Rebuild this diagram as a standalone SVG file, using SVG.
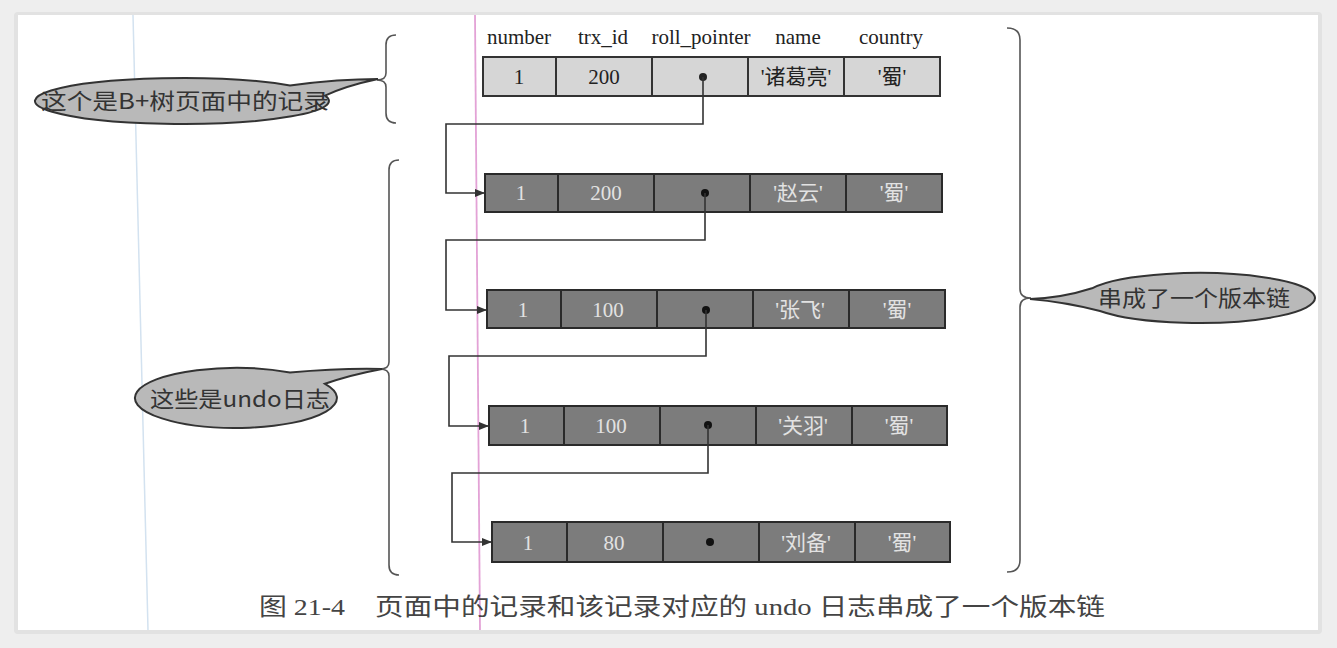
<svg xmlns="http://www.w3.org/2000/svg" width="1337" height="648" viewBox="0 0 1337 648">
<defs>
<style>
.t{font-family:"Liberation Serif","Noto Sans CJK SC",serif;font-size:21px;text-anchor:middle}
.lt{fill:#222}
.dk{fill:#e2e2e2}
.cl{fill:#d6d6d6;stroke:#333;stroke-width:2}
.cd{fill:#7c7c7c;stroke:#2a2a2a;stroke-width:2}
.con{fill:none;stroke:#333;stroke-width:1.6}
.br{fill:none;stroke:#555;stroke-width:1.6}
.bub{fill:#b9b9b9;stroke:#333;stroke-width:2}
.bt{font-family:"Noto Sans CJK SC","Liberation Serif",serif;font-size:22px;fill:#333}
.cap{font-family:"Liberation Serif","Noto Sans CJK SC",serif;font-size:24px;fill:#444}
</style>
<marker id="ah" markerWidth="10" markerHeight="8" refX="9" refY="4" orient="auto" markerUnits="userSpaceOnUse">
<path d="M0,0 L10,4 L0,8 Z" fill="#333"/>
</marker>
</defs>
<rect x="0" y="0" width="1337" height="648" fill="#eeeeee"/>
<rect x="14" y="12" width="1308" height="622" rx="4" fill="#e2e2e2"/>
<rect x="18" y="15" width="1300" height="615" fill="#ffffff"/>
<line x1="133" y1="15" x2="148" y2="630" stroke="#d3e2f0" stroke-width="1.5"/>
<line x1="475" y1="15" x2="480" y2="630" stroke="#e3a2d6" stroke-width="1.8"/>

<g id="headers">
<text class="t lt" x="519" y="44">number</text>
<text class="t lt" x="603" y="44">trx_id</text>
<text class="t lt" x="701" y="44">roll_pointer</text>
<text class="t lt" x="798" y="44">name</text>
<text class="t lt" x="891" y="44">country</text>
</g>

<g id="row1">
<rect class="cl" x="483" y="57" width="73" height="39"/>
<rect class="cl" x="556" y="57" width="96" height="39"/>
<rect class="cl" x="652" y="57" width="96" height="39"/>
<rect class="cl" x="748" y="57" width="96" height="39"/>
<rect class="cl" x="844" y="57" width="96" height="39"/>
<text class="t lt" x="519" y="84">1</text>
<text class="t lt" x="604" y="84">200</text>
<circle cx="703" cy="77" r="4" fill="#222"/>
<text class="t lt" x="796" y="84">'诸葛亮'</text>
<text class="t lt" x="892" y="84">'蜀'</text>
</g>

<g id="row2">
<rect class="cd" x="485" y="174" width="73" height="38"/>
<rect class="cd" x="558" y="174" width="96" height="38"/>
<rect class="cd" x="654" y="174" width="96" height="38"/>
<rect class="cd" x="750" y="174" width="96" height="38"/>
<rect class="cd" x="846" y="174" width="96" height="38"/>
<text class="t dk" x="521" y="200">1</text>
<text class="t dk" x="606" y="200">200</text>
<circle cx="705" cy="193" r="4" fill="#111"/>
<text class="t dk" x="798" y="200">'赵云'</text>
<text class="t dk" x="894" y="200">'蜀'</text>
</g>

<g id="row3">
<rect class="cd" x="487" y="290" width="74" height="38"/>
<rect class="cd" x="561" y="290" width="96" height="38"/>
<rect class="cd" x="657" y="290" width="96" height="38"/>
<rect class="cd" x="753" y="290" width="96" height="38"/>
<rect class="cd" x="849" y="290" width="96" height="38"/>
<text class="t dk" x="523" y="317">1</text>
<text class="t dk" x="608" y="317">100</text>
<circle cx="706" cy="310" r="4" fill="#111"/>
<text class="t dk" x="800" y="317">'张飞'</text>
<text class="t dk" x="897" y="317">'蜀'</text>
</g>

<g id="row4">
<rect class="cd" x="489" y="406" width="75" height="39"/>
<rect class="cd" x="564" y="406" width="96" height="39"/>
<rect class="cd" x="660" y="406" width="96" height="39"/>
<rect class="cd" x="756" y="406" width="96" height="39"/>
<rect class="cd" x="852" y="406" width="95" height="39"/>
<text class="t dk" x="525" y="433">1</text>
<text class="t dk" x="611" y="433">100</text>
<circle cx="708" cy="425" r="4" fill="#111"/>
<text class="t dk" x="803" y="433">'关羽'</text>
<text class="t dk" x="899" y="433">'蜀'</text>
</g>

<g id="row5">
<rect class="cd" x="492" y="522" width="75" height="40"/>
<rect class="cd" x="567" y="522" width="96" height="40"/>
<rect class="cd" x="663" y="522" width="96" height="40"/>
<rect class="cd" x="759" y="522" width="96" height="40"/>
<rect class="cd" x="855" y="522" width="95" height="40"/>
<text class="t dk" x="528" y="550">1</text>
<text class="t dk" x="614" y="550">80</text>
<circle cx="710" cy="542" r="4" fill="#111"/>
<text class="t dk" x="806" y="550">'刘备'</text>
<text class="t dk" x="902" y="550">'蜀'</text>
</g>

<g id="connectors">
<path class="con" d="M703 77 V124 H446 V193 H484" marker-end="url(#ah)"/>
<path class="con" d="M705 193 V240 H446 V310 H486" marker-end="url(#ah)"/>
<path class="con" d="M706 310 V356 H449 V426 H488" marker-end="url(#ah)"/>
<path class="con" d="M708 425 V473 H452 V542 H491" marker-end="url(#ah)"/>
</g>

<g id="braces">
<path class="br" d="M396 35 Q386 35 386 45 L386 73 Q386 80 377 80 Q386 80 386 87 L386 113 Q386 123 396 123"/>
<path class="br" d="M399 160 Q389 160 389 170 L389 362 Q389 369 380 369 Q389 369 389 376 L389 565 Q389 575 399 575"/>
<path class="br" d="M1007 28 Q1020 28 1020 40 L1020 289 Q1020 298 1031 298 Q1020 298 1020 307 L1020 560 Q1020 572 1007 572"/>
</g>

<g id="bubble1">
<path class="bub" d="M290 85.4 Q340 79 378 79 Q345 86 325 95.7 A147 23 0 1 1 290 85.4 Z"/>
<text class="bt" x="41" y="109" textLength="288" lengthAdjust="spacingAndGlyphs">这个是B+树页面中的记录</text>
</g>

<g id="bubble2">
<path class="bub" d="M290 372.6 Q340 368 382 369 Q350 375 325 383.8 A101 30 0 1 1 290 372.6 Z"/>
<text class="bt" x="150" y="407" textLength="180" lengthAdjust="spacingAndGlyphs">这些是undo日志</text>
</g>

<g id="bubble3">
<path class="bub" d="M1092 288.3 Q1062 298 1030 299 Q1065 302 1100 311 A116 25 0 1 0 1092 288.3 Z"/>
<text class="bt" x="1098" y="306" textLength="192" lengthAdjust="spacingAndGlyphs">串成了一个版本链</text>
</g>

<g id="caption">
<text class="cap" x="259" y="615" textLength="86" lengthAdjust="spacingAndGlyphs">图 21-4</text>
<text class="cap" x="375" y="615" textLength="730" lengthAdjust="spacingAndGlyphs">页面中的记录和该记录对应的 undo 日志串成了一个版本链</text>
</g>
</svg>
